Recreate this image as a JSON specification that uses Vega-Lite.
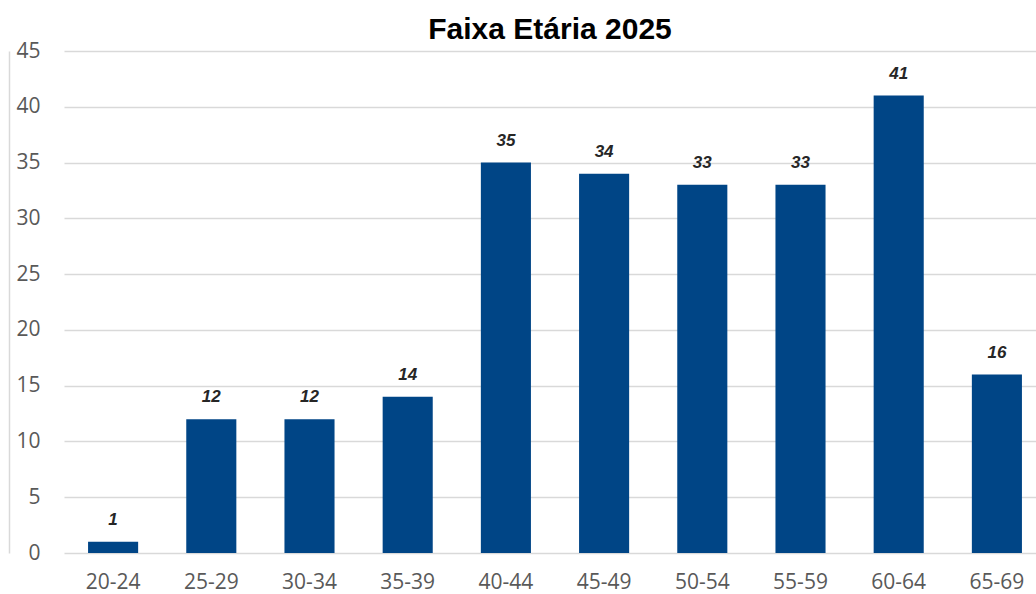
{
  "$schema": "https://vega.github.io/schema/vega-lite/v6.json",
  "autosize": "none",
  "width": 972,
  "height": 502,
  "padding": {"left": 64, "top": 51, "right": 0, "bottom": 41},
  "background": "white",
  "title": {
    "text": "Faixa Etária 2025",
    "font": "Liberation Sans",
    "fontSize": 30,
    "fontWeight": "bold",
    "color": "#000000",
    "anchor": "middle",
    "offset": -5
  },
  "config": {
    "view": {"stroke": null}
  },
  "data": {
    "values": [
      {"faixa": "20-24", "n": 1},
      {"faixa": "25-29", "n": 12},
      {"faixa": "30-34", "n": 12},
      {"faixa": "35-39", "n": 14},
      {"faixa": "40-44", "n": 35},
      {"faixa": "45-49", "n": 34},
      {"faixa": "50-54", "n": 33},
      {"faixa": "55-59", "n": 33},
      {"faixa": "60-64", "n": 41},
      {"faixa": "65-69", "n": 16}
    ]
  },
  "encoding": {
    "x": {
      "field": "faixa",
      "type": "nominal",
      "sort": null,
      "scale": {"range": [0, 982], "paddingInner": 0.49, "paddingOuter": 0.245},
      "axis": {
        "title": null,
        "labelAngle": 0,
        "labelFont": "Open Sans",
        "labelFontSize": 21,
        "labelColor": "#595959",
        "labelPadding": 18,
        "ticks": false,
        "domain": false,
        "grid": false
      }
    },
    "y": {
      "field": "n",
      "type": "quantitative",
      "scale": {"domain": [0, 45]},
      "axis": {
        "title": null,
        "values": [0, 5, 10, 15, 20, 25, 30, 35, 40, 45],
        "labelFont": "Open Sans",
        "labelFontSize": 21,
        "labelColor": "#595959",
        "offset": 55,
        "domain": true,
        "domainColor": "#d9d9d9",
        "domainWidth": 1.5,
        "ticks": false,
        "tickSize": 0,
        "labelPadding": -31,
        "labelAlign": "right",
        "grid": true,
        "gridColor": "#d9d9d9",
        "gridWidth": 1.5
      }
    }
  },
  "layer": [
    {"mark": {"type": "bar", "color": "#004586"}},
    {
      "mark": {
        "type": "text",
        "font": "Liberation Sans",
        "fontSize": 17,
        "fontStyle": "italic",
        "fontWeight": "bold",
        "color": "#262626",
        "baseline": "alphabetic",
        "dy": -17
      },
      "encoding": {"text": {"field": "n", "type": "quantitative"}}
    }
  ]
}
